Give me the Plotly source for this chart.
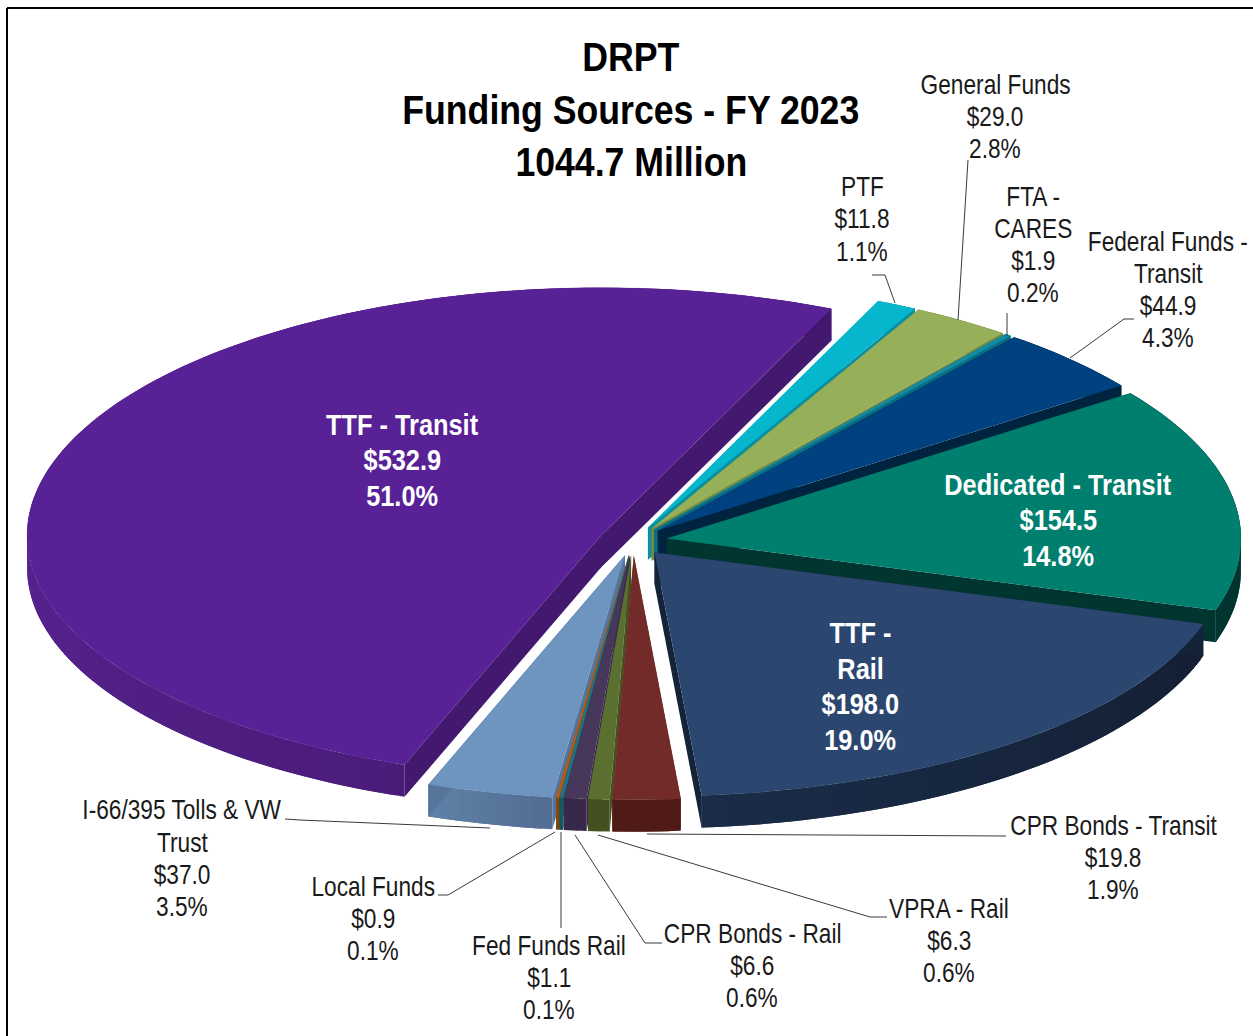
import math
import plotly.graph_objects as go

# ---------- data ----------
categories = ["PTF", "General Funds", "FTA - CARES", "Federal Funds - Transit",
              "Dedicated - Transit", "TTF - Rail", "CPR Bonds - Transit", "VPRA - Rail",
              "CPR Bonds - Rail", "Fed Funds Rail", "Local Funds",
              "I-66/395 Tolls & VW Trust", "TTF - Transit"]
values = [11.8, 29.0, 1.9, 44.9, 154.5, 198.0, 19.8, 6.3, 6.6, 1.1, 0.9, 37.0, 532.9]
percents = [1.1, 2.8, 0.2, 4.3, 14.8, 19.0, 1.9, 0.6, 0.6, 0.1, 0.1, 3.5, 51.0]
title_lines = ["DRPT", "Funding Sources - FY 2023", "1044.7 Million"]

# ---------- styles ----------
top_colors = ["#05B6CD", "#95B058", "#0F8CA6", "#00427F", "#007F6E", "#2C476F", "#722B28",
              "#5B7030", "#46375B", "#26707F", "#B85B10", "#6E94C0", "#582296"]
wall_colors = ["#0A8FA0", "#77893F", "#0B6E80", "#00233F", "#003530", "#152338", "#4F1A17",
               "#44501F", "#38284A", "#1C5560", "#8A4408", "#55759B", "#43186F"]
outer_colors = [("#0A8FA0",)*2, ("#77893F",)*2, ("#0B6E80",)*2, ("#00233F",)*2,
                ("#003530",)*2, ("#141F33", "#1A2C48"), ("#501A16", "#501A16"),
                ("#44501F",)*2, ("#38284A",)*2, ("#1C5560",)*2, ("#8A4408",)*2,
                ("#536D94", "#5F83A8"), ("#4A1C7A", "#57238F")]

# ---------- geometry of the exploded, tilted pie (axes are in picture pixels) ----------
CX, CY, RX, RY = 633.0, 541.0, 574.0, 244.0
DEPTH, PULL, START_DEG = 32.0, 0.06, 23.65
BACK_STRETCH = 0.016
SHADE_SPAN_DEG = 70.0
draw_order = [0, 1, 2, 3, 4, 5, 12, 11, 10, 9, 8, 7, 6]

fig = go.Figure()


def polygon(xs, ys, color, name, edge=0.0):
    fig.add_trace(go.Scatter(x=xs, y=ys, mode="lines", fill="toself", fillcolor=color,
                             line=dict(color=color, width=edge), name=name,
                             hoverinfo="name", showlegend=False))


def mix(c1, c2, t):
    a = [int(c1[i:i + 2], 16) for i in (1, 3, 5)]
    b = [int(c2[i:i + 2], 16) for i in (1, 3, 5)]
    return "#%02X%02X%02X" % tuple(round(p + (q - p) * t) for p, q in zip(a, b))


total = sum(values)
edges = [START_DEG]
for v in values:
    edges.append(edges[-1] + v / total * 360.0)


def point(deg, apex):
    r = math.radians(deg)
    c = math.cos(r)
    stretch = 1 + BACK_STRETCH * max(c, 0.0)
    return apex[0] + RX * math.sin(r), apex[1] - RY * c * stretch


for i in draw_order:
    a0, a1 = edges[i], edges[i + 1]
    mid = math.radians((a0 + a1) / 2)
    apex = (CX + PULL * RX * math.sin(mid), CY - PULL * RY * math.cos(mid))
    n = max(3, int((a1 - a0) / 1.0))
    angles = [a0 + (a1 - a0) * k / n for k in range(n + 1)]
    arc = [point(t, apex) for t in angles]
    # outer wall, shaded in overlapping strips so that no seams show
    span = min(SHADE_SPAN_DEG, a1 - a0)
    for k in range(n):
        seg = arc[k:k + 3]
        xs = [p[0] for p in seg] + [p[0] for p in reversed(seg)]
        ys = [p[1] for p in seg] + [p[1] + DEPTH for p in reversed(seg)]
        t = min(1.0, (angles[k] - a0) / span)
        polygon(xs, ys, mix(outer_colors[i][0], outer_colors[i][1], t), categories[i])
    # radial side walls
    for p in (arc[0], arc[-1]):
        polygon([apex[0], p[0], p[0], apex[0]],
                [apex[1], p[1], p[1] + DEPTH, apex[1] + DEPTH],
                wall_colors[i], categories[i])
    # top face
    polygon([apex[0]] + [p[0] for p in arc], [apex[1]] + [p[1] for p in arc],
            top_colors[i], categories[i], edge=0.2)

# ---------- leader lines ----------
leaders = [
    [(872, 275), (885, 275), (895, 303)],
    [(968, 160), (958, 320)],
    [(1007, 313), (1007, 336)],
    [(1134, 319), (1124, 319), (1070, 358)],
    [(1006, 836), (647, 834)],
    [(887, 917), (870, 917), (598, 835)],
    [(662, 943), (645, 943), (575, 835)],
    [(561, 928), (561, 832)],
    [(438, 895), (448, 895), (555, 832)],
    [(285, 819), (300, 820), (490, 828)],
]
for pts in leaders:
    fig.add_trace(go.Scatter(x=[p[0] for p in pts], y=[p[1] for p in pts], mode="lines",
                             line=dict(color="#3A3A3A", width=1), hoverinfo="skip",
                             showlegend=False))

# ---------- labels ----------
FONT = "Liberation Sans"
annotations = []


def label(cx, ys, lines, size=28, color="#1A1A1A", bold=False):
    nudge = 1 if size == 28 else 0
    for y, t in zip(ys, lines):
        annotations.append(dict(x=cx, y=y - nudge, xref="x", yref="y",
                                text=f"<b>{t}</b>" if bold else t,
                                showarrow=False, xanchor="center", yanchor="middle",
                                font=dict(family=FONT, size=size, color=color)))


def money(i):
    return f"${values[i]:.1f}"


def pct(i):
    return f"{percents[i]:.1f}%"


label(631, [57, 110, 162], title_lines, size=41, color="#000000", bold=True)
label(862, [187, 219, 252], ["PTF", money(0), pct(0)])
label(995, [85, 117, 149], ["General Funds", money(1), pct(1)])
label(1033, [197, 229, 261, 293], ["FTA -", "CARES", money(2), pct(2)])
label(1168, [242, 274, 306, 338], ["Federal Funds -", "Transit", money(3), pct(3)])
label(1058, [485, 520, 556], ["Dedicated - Transit", money(4), pct(4)], size=29, color="#FFFFFF", bold=True)
label(860, [633, 669, 704, 740], ["TTF -", "Rail", money(5), pct(5)], size=29, color="#FFFFFF", bold=True)
label(1113, [826, 858, 890], ["CPR Bonds - Transit", money(6), pct(6)])
label(949, [909, 941, 973], ["VPRA - Rail", money(7), pct(7)])
label(752, [934, 966, 998], ["CPR Bonds - Rail", money(8), pct(8)])
label(549, [946, 978, 1010], ["Fed Funds Rail", money(9), pct(9)])
label(373, [887, 919, 951], ["Local Funds", money(10), pct(10)])
label(182, [810, 843, 875, 907], ["I-66/395 Tolls & VW", "Trust", money(11), pct(11)])
label(402, [425, 460, 496], ["TTF - Transit", money(12), pct(12)], size=29, color="#FFFFFF", bold=True)

# ---------- frame ----------
shapes = [
    dict(type="line", x0=7, x1=7, y0=8, y1=1036, xref="x", yref="y", line=dict(color="#000000", width=2)),
    dict(type="line", x0=7, x1=1253, y0=8, y1=8, xref="x", yref="y", line=dict(color="#000000", width=2)),
]

fig.update_layout(
    width=1253, height=1036, margin=dict(l=0, r=0, t=0, b=0, pad=0),
    paper_bgcolor="#FFFFFF", plot_bgcolor="#FFFFFF", showlegend=False,
    xaxis=dict(range=[0, 1253], visible=False, fixedrange=True),
    yaxis=dict(range=[1036, 0], visible=False, fixedrange=True),
    annotations=annotations, shapes=shapes,
)

# The reference uses a condensed face: narrow the annotation glyphs horizontally.
POST = """
document.body.style.margin='0';document.body.style.overflow='hidden';
var squeeze={41:0.87,29:0.875,28:0.81};
document.querySelectorAll('.annotation-text').forEach(function(t){
  var s=Math.round(parseFloat(t.style.fontSize));
  t.style.transformBox='fill-box';t.style.transformOrigin='center';
  t.style.transform='scaleX('+(squeeze[s]||0.85)+')';
});
"""
fig.write_html("out.html", config={"displayModeBar": False}, post_script=POST)
